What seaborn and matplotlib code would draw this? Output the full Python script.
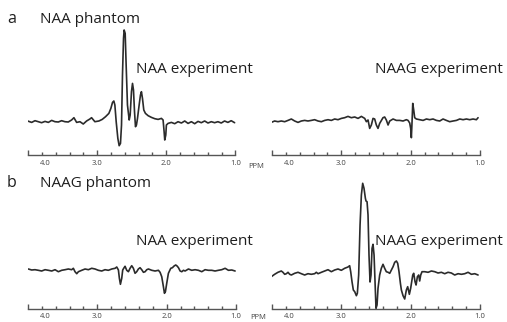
import pandas as pd
import matplotlib
matplotlib.use("Agg")
import matplotlib.pyplot as plt
from matplotlib.ticker import FixedLocator
from matplotlib.transforms import ScaledTranslation
import seaborn as sns

# Spectra: chemical shift (ppm) and signal (arbitrary units, baseline = 0)

# a) NAA phantom, NAA experiment
a_naa_ppm = [4.005, 3.947, 3.899, 3.851, 3.803, 3.754, 3.706, 3.658, 3.610, 3.562, 3.514,
             3.466, 3.418, 3.370, 3.336, 3.297, 3.249, 3.201, 3.153, 3.105, 3.081, 3.033,
             2.975, 2.927, 2.879, 2.831, 2.802, 2.778, 2.759, 2.744, 2.725, 2.701, 2.682,
             2.663, 2.648, 2.634, 2.619, 2.610, 2.595, 2.581, 2.562, 2.537, 2.523, 2.504,
             2.489, 2.475, 2.460, 2.446, 2.432, 2.417, 2.393, 2.374, 2.360, 2.345, 2.326,
             2.302, 2.263, 2.215, 2.167, 2.119, 2.071, 2.047, 2.032, 2.023, 2.008, 1.999,
             1.975, 1.927, 1.879, 1.831, 1.782, 1.734, 1.686, 1.638, 1.590, 1.542, 1.494,
             1.446, 1.398, 1.350, 1.302, 1.254, 1.206, 1.158, 1.110, 1.062, 1.013]
a_naa_sig = [0.7, -0.7, 1.0, 0, -1.0, 0.3, -0.7, 1.3, 0, -0.3, 1.0,
             0, -0.3, 1.7, 4.0, -0.7, 0, -2.3, 0.7, 2.7, 4.0, 0,
             0.7, 2.3, 5.0, 8.3, 13.3, 19.3, 20.7, 16.7, 0, -16.7, -24.0,
             -21.7, -3.3, 46.7, 83.3, 91.7, 88.3, 56.7, 16.7, 1.7, 6.7, 30.0,
             38.3, 31.7, 10.0, -5.0, -3.3, 3.3, 16.7, 26.7, 30.0, 23.3, 11.7,
             8.3, 6.0, 4.3, 3.0, 2.3, 3.3, 1.7, -10.0, -18.3, -13.3, -3.3,
             -1.7, -0.7, -2.0, 0, -1.3, 0.7, -1.7, 0, -2.0, 0.3, -1.0,
             0.7, -1.3, 0, -1.0, 0, -1.3, 0.7, -0.7, 1.0, -1.0]

# a) NAA phantom, NAAG experiment
a_naag_ppm = [4.010, 3.962, 3.914, 3.866, 3.817, 3.769, 3.721, 3.673, 3.625, 3.577, 3.529,
              3.481, 3.433, 3.385, 3.336, 3.288, 3.240, 3.192, 3.144, 3.096, 3.048, 3.000,
              2.952, 2.904, 2.856, 2.807, 2.759, 2.711, 2.663, 2.639, 2.615, 2.591, 2.567,
              2.543, 2.519, 2.495, 2.471, 2.447, 2.399, 2.375, 2.351, 2.326, 2.302, 2.254,
              2.206, 2.158, 2.110, 2.062, 2.038, 2.014, 2.000, 1.990, 1.980, 1.970, 1.956,
              1.942, 1.918, 1.870, 1.821, 1.773, 1.725, 1.677, 1.629, 1.581, 1.533, 1.485,
              1.437, 1.388, 1.340, 1.292, 1.244, 1.196, 1.148, 1.100, 1.052, 1.028]
a_naag_sig = [-0.7, 0.7, 0, 0.7, 0, 1.3, 2.7, 0.7, -0.7, 0.7, 1.3,
              0.7, 1.3, 2.0, 0.7, 0, 1.3, 2.0, 1.3, 2.7, 2.0, 3.3,
              4.0, 5.3, 4.0, 4.7, 3.3, 5.3, 3.3, 0, 1.7, -6.7, -3.3,
              3.3, 2.7, -3.3, -6.7, -1.7, 4.0, 4.7, 1.7, -3.3, 0.7, 2.7,
              1.3, 1.3, 0.7, 2.0, 1.3, -1.3, -6.7, -16.0, 0, 18.3, 11.7,
              4.0, 2.7, 2.0, 1.3, 2.7, 2.0, 2.7, 1.3, 0.7, 2.7, 1.3,
              0, 0.7, 1.3, 2.7, 2.0, 2.7, 2.0, 2.7, 2.0, 4.0]

# b) NAAG phantom, NAA experiment
b_naa_ppm = [3.995, 3.947, 3.899, 3.851, 3.803, 3.754, 3.706, 3.658, 3.610, 3.562, 3.514,
             3.466, 3.418, 3.370, 3.346, 3.322, 3.297, 3.273, 3.225, 3.177, 3.129, 3.081,
             3.033, 2.985, 2.937, 2.889, 2.841, 2.792, 2.744, 2.720, 2.696, 2.682, 2.667,
             2.648, 2.634, 2.614, 2.600, 2.576, 2.552, 2.528, 2.504, 2.480, 2.456, 2.432,
             2.408, 2.384, 2.360, 2.335, 2.311, 2.287, 2.263, 2.215, 2.167, 2.119, 2.095,
             2.071, 2.047, 2.032, 2.018, 1.999, 1.975, 1.941, 1.917, 1.893, 1.869, 1.850,
             1.830, 1.806, 1.782, 1.758, 1.734, 1.686, 1.638, 1.590, 1.542, 1.494, 1.446,
             1.398, 1.350, 1.302, 1.254, 1.206, 1.181, 1.157, 1.109, 1.061, 1.013]
b_naa_sig = [1.0, 0, 0.3, -0.3, -1.0, 0.3, -0.3, -1.0, 0.3, -1.7, -0.3,
             0.3, 1.0, 0.3, 1.7, -1.7, -3.7, -1.7, -0.3, 1.0, 0.3, 1.7,
             1.0, -0.3, -1.0, 0.3, -0.3, 1.0, 1.7, 3.0, 0, -8.3, -14.3,
             -8.3, 0, 2.3, 3.7, -0.3, -1.7, 1.7, 4.3, 1.7, -3.3, -1.7,
             1.0, 2.3, 0.3, -2.3, -1.7, 0.3, 1.0, -0.3, -1.0, -0.3, -2.3,
             -6.7, -16.7, -23.3, -21.7, -13.3, -3.3, 1.7, 2.3, 4.0, 5.0, 4.0,
             2.3, -1.0, -1.7, -0.3, -1.0, 1.0, -0.3, 0.3, -0.3, -1.7, 0.3,
             -0.3, -0.3, -1.0, -0.3, 0.3, 1.0, 1.7, -0.3, 0, -1.0]

# b) NAAG phantom, NAAG experiment
b_naag_ppm = [4.010, 3.962, 3.914, 3.866, 3.842, 3.817, 3.793, 3.769, 3.745, 3.721,
              3.673, 3.625, 3.577, 3.529, 3.481, 3.433, 3.385, 3.361, 3.336,
              3.288, 3.240, 3.192, 3.144, 3.096, 3.048, 3.000, 2.952, 2.904,
              2.880, 2.865, 2.846, 2.827, 2.807, 2.783, 2.769, 2.750, 2.730, 2.711,
              2.692, 2.673, 2.653, 2.644, 2.629, 2.615, 2.601, 2.586, 2.572, 2.557,
              2.543, 2.528, 2.514, 2.500, 2.485, 2.471,
              2.447, 2.423, 2.399, 2.375, 2.351, 2.326, 2.302, 2.278, 2.254, 2.230, 2.206,
              2.187, 2.168, 2.148, 2.134, 2.110, 2.086, 2.062, 2.043, 2.019, 2.000,
              1.970, 1.956, 1.937, 1.922, 1.903, 1.884, 1.870, 1.855, 1.836,
              1.797, 1.749, 1.701, 1.653, 1.605, 1.557, 1.509, 1.461, 1.413, 1.365,
              1.316, 1.268, 1.220, 1.172, 1.124, 1.076, 1.028]
b_naag_sig = [-2.7, -0.3, 1.7, 3.0, 1.7, -0.3, 0.3, 1.7, -0.3, -1.0,
              0.7, 1.7, 0.3, -1.0, 0.3, -0.3, 0.3, 1.7, 0.3,
              1.7, 3.0, 4.3, 2.3, 4.0, 5.0, 3.7, 5.7, 7.0,
              8.3, 2.3, -7.7, -16.0, -17.7, -21.7, -19.3, -1.0, 49.0, 79.0,
              90.7, 85.7, 75.7, 73.0, 72.3, 59.0, 19.0, -8.0, -1.0, 25.7,
              29.7, 19.0, -7.7, -34.3, -31.0, -14.3,
              -1.0, 5.7, 9.7, 5.7, 2.3, 1.7, 0.7, 4.0, 7.3, 11.7, 13.0,
              10.7, 2.3, -9.3, -16.0, -21.7, -25.0, -16.0, -12.7, -20.3, -14.3,
              -1.0, 0.7, -7.7, -11.0, -2.7, -1.0, -7.0, -1.0, 2.3,
              2.3, 1.7, 3.0, 2.3, 1.0, 1.7, 0.3, 1.7, 1.0, -1.0,
              0.3, -0.3, 0.3, 1.7, -0.3, 0.3, -1.0]

major_ticks = [4.0, 3.0, 2.0, 1.0]
major_labels = ["4.0", "3.0", "2.0", "1.0"]
minor_ticks = [3.8, 3.6, 3.4, 3.2, 2.8, 2.6, 2.4, 2.2, 1.8, 1.6, 1.4, 1.2]

sns.set_style("white")
plt.rcParams["font.family"] = ["Open Sans", "DejaVu Sans"]

W, H = 507, 322
LINE = "#2b2b2b"
AXC = "#555555"

fig = plt.figure(figsize=(W / 100, H / 100), dpi=100)


def px_rect(left, right, top, bottom):
    return [left / W, 1 - bottom / H, (right - left) / W, (bottom - top) / H]


# (ppm, signal, left, right, top, axis line y, baseline y) in pixels
panels = [
    (a_naa_ppm, a_naa_sig, 28, 235.5, 20, 155, 121.7),
    (a_naag_ppm, a_naag_sig, 272, 480, 20, 155, 121.7),
    (b_naa_ppm, b_naa_sig, 28, 236, 174, 308.5, 270),
    (b_naag_ppm, b_naag_sig, 272, 480, 174, 308.5, 274),
]

for ppm, sig, left, right, top, bottom, base in panels:
    ax = fig.add_axes(px_rect(left, right, top, bottom))
    df = pd.DataFrame({"ppm": ppm, "signal": sig})
    sns.lineplot(data=df, x="ppm", y="signal", ax=ax, color=LINE,
                 linewidth=1.2, estimator=None)
    ax.set_xlim(4.0, 1.0)
    ax.set_ylim(base - bottom, base - top)
    ax.patch.set_alpha(0)
    sns.despine(ax=ax, left=True)
    ax.spines["bottom"].set_color(AXC)
    ax.spines["bottom"].set_linewidth(1.0)
    ax.set_yticks([])
    ax.set_xlabel("")
    ax.set_ylabel("")
    ax.xaxis.set_major_locator(FixedLocator(major_ticks))
    ax.set_xticklabels(major_labels)
    ax.xaxis.set_minor_locator(FixedLocator(minor_ticks))
    ax.tick_params(axis="x", which="major", bottom=True, direction="in", length=3.5,
                   width=1.0, color=AXC, labelsize=5.5, labelcolor="#444444", pad=3.5)
    ax.tick_params(axis="x", which="minor", bottom=True, direction="in", length=2.2,
                   width=1.0, color=AXC)
    # the "4.0" label sits a little to the right of its tick in the original
    first = ax.xaxis.get_major_ticks()[0].label1
    first.set_transform(first.get_transform() +
                        ScaledTranslation(17 / 100, 0, fig.dpi_scale_trans))


def label(x, y, s, size=11, color="#1e1e1e"):
    fig.text(x / W, 1 - y / H, s, fontsize=size, color=color, va="baseline", ha="left")


label(7, 23, "a", size=11.5)
label(40, 23, "NAA phantom")
label(136, 73, "NAA experiment")
label(375, 73, "NAAG experiment")
label(7, 187, "b", size=11.5)
label(40, 187, "NAAG phantom")
label(136, 245, "NAA experiment")
label(375, 245, "NAAG experiment")

label(248, 167.5, "PPM", size=5.5, color="#444444")
label(250, 319, "PPM", size=5.5, color="#444444")

fig.savefig("out.png", dpi=100)
